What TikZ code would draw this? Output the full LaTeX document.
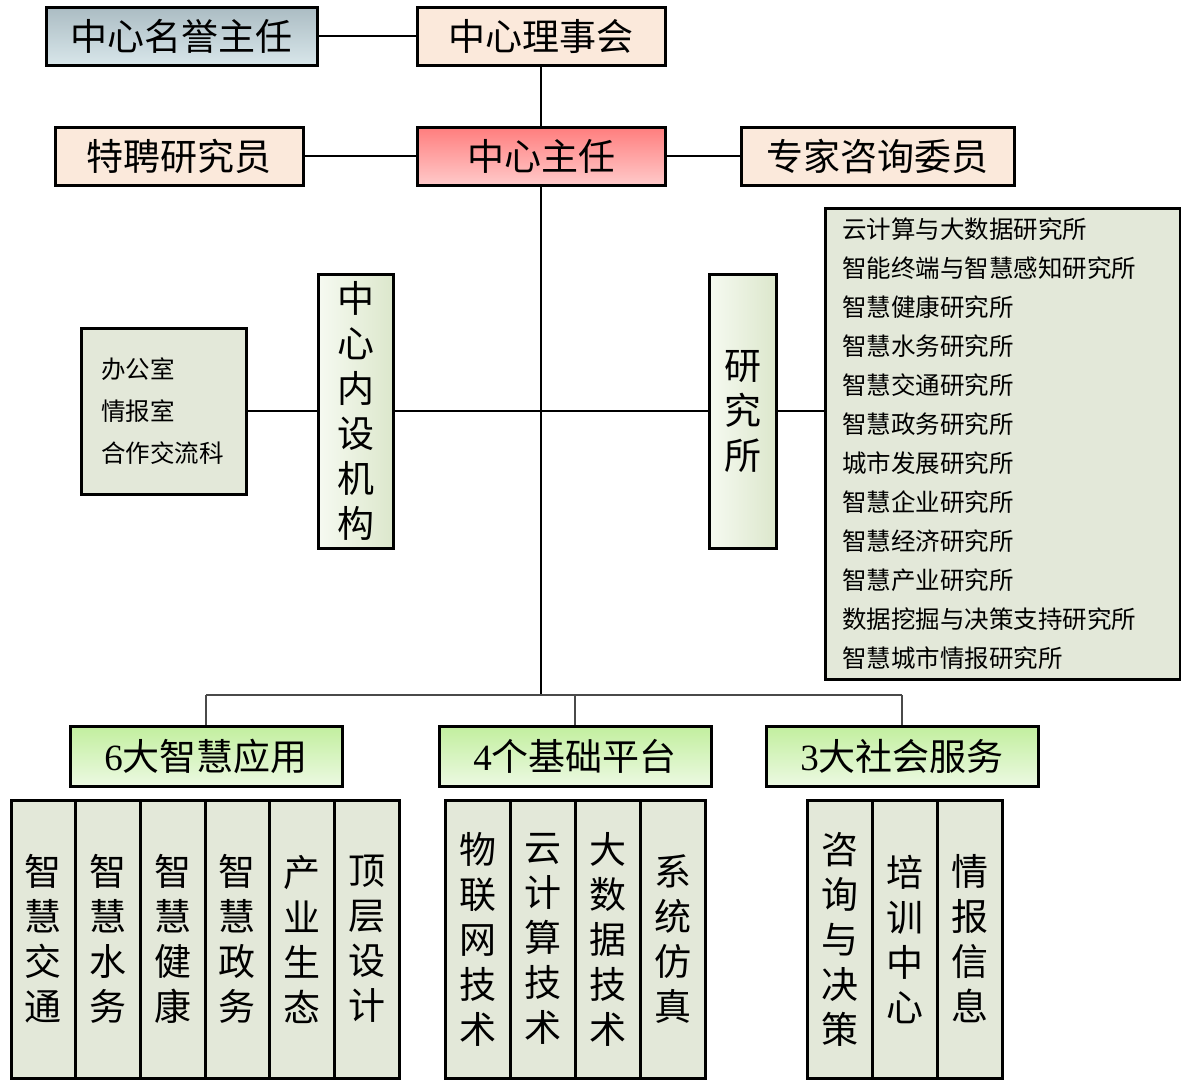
\documentclass[tikz,border=0pt]{standalone}
\usepackage{fontspec}
\setmainfont{Liberation Serif}
\newfontfamily\cjk{Noto Sans CJK SC}
\usepackage{xcolor}
\usepackage{tikz}
\definecolor{peach}{HTML}{FBE9DB}
\definecolor{sage}{HTML}{E3E8D9}
\definecolor{honA}{HTML}{ABBCC3}
\definecolor{honB}{HTML}{D8E6EA}
\definecolor{redA}{HTML}{FF7D7D}
\definecolor{redB}{HTML}{FFCACA}
\definecolor{vgA}{HTML}{F6FAF1}
\definecolor{vgB}{HTML}{DCE7CC}
\definecolor{grA}{HTML}{C2EF9E}
\definecolor{grB}{HTML}{ECF9E2}
\definecolor{busgray}{HTML}{4A4A4A}

\begin{document}
\begin{tikzpicture}[x=1pt,y=-1pt,
  box/.style={draw=black,line width=3pt,inner sep=0pt,font=\cjk\fontsize{37}{45}\selectfont},
  head/.style={box,minimum height=58},
  vbox/.style={box,align=center,left color=vgA,right color=vgB,minimum height=274},
  cat/.style={box,minimum width=272,minimum height=60,top color=grA,bottom color=grB},
  col/.style={box,fill=sage,align=center,minimum width=65,minimum height=278},
  link/.style={draw=black,line width=2pt},
  bus/.style={draw=busgray,line width=1.5pt}]
\useasboundingbox (0,0) rectangle (1181,1080);
\node[head,minimum width=271,top color=honA,bottom color=honB] (hon) at (181.5,36) {中心名誉主任};
\node[head,minimum width=248,fill=peach] (board) at (541,36) {中心理事会};
\node[head,minimum width=248,fill=peach] (fellow) at (179,156) {特聘研究员};
\node[head,minimum width=248,top color=redA,bottom color=redB] (dir) at (541,156) {中心主任};
\node[head,minimum width=273,fill=peach] (expert) at (877.5,156) {专家咨询委员};
\node[box,fill=sage,minimum width=165,minimum height=166,text width=125,align=left,
  font=\cjk\fontsize{24.5}{42}\selectfont] (office) at (163.5,411) {办公室\\情报室\\合作交流科};
\node[vbox,minimum width=75] (inner) at (355.5,411) {中\\心\\内\\设\\机\\构};
\node[vbox,minimum width=67] (inst) at (742.5,411) {研\\究\\所};
\node[box,fill=sage,minimum width=355,minimum height=471,text width=321,align=left,
  font=\cjk\fontsize{24.5}{39}\selectfont] (list) at (1002.5,443.5)
  {云计算与大数据研究所\\智能终端与智慧感知研究所\\智慧健康研究所\\智慧水务研究所\\智慧交通研究所\\智慧政务研究所\\城市发展研究所\\智慧企业研究所\\智慧经济研究所\\智慧产业研究所\\数据挖掘与决策支持研究所\\智慧城市情报研究所};
\node[cat] (app) at (206,756) {{\rmfamily 6}大智慧应用};
\node[cat] (plat) at (575,756) {{\rmfamily 4}个基础平台};
\node[cat] (serv) at (902,756) {{\rmfamily 3}大社会服务};
\foreach \t [count=\i] in {{智\\慧\\交\\通},{智\\慧\\水\\务},{智\\慧\\健\\康},{智\\慧\\政\\务},{产\\业\\生\\态},{顶\\层\\设\\计}}
  \node[col,minimum width=64.67] (app\i) at ({11+64.67*(\i-0.5)},939) {\t};
\foreach \t [count=\i] in {{物\\联\\网\\技\\术},{云\\计\\算\\技\\术},{大\\数\\据\\技\\术},{系\\统\\仿\\真}}
  \node[col] (plat\i) at ({445+65*(\i-0.5)},939) {\t};
\foreach \t [count=\i] in {{咨\\询\\与\\决\\策},{培\\训\\中\\心},{情\\报\\信\\息}}
  \node[col] (serv\i) at ({807+65*(\i-0.5)},939) {\t};
\coordinate (bus) at (541,695);
\draw[link] (hon) -- (board);
\draw[link] (board) -- (dir);
\draw[link] (fellow) -- (dir);
\draw[link] (dir) -- (expert);
\draw[link] (dir) -- (bus);
\draw[link] (office) -- (inner);
\draw[link] (inner) -- (inst);
\draw[link] (inst.east) -- (inst.east -| list.west);
\draw[bus] (app.north |- bus) -- (serv.north |- bus);
\draw[bus] (app.north |- bus) -- (app.north);
\draw[bus] (plat.north |- bus) -- (plat.north);
\draw[bus] (serv.north |- bus) -- (serv.north);
\end{tikzpicture}
\end{document}
